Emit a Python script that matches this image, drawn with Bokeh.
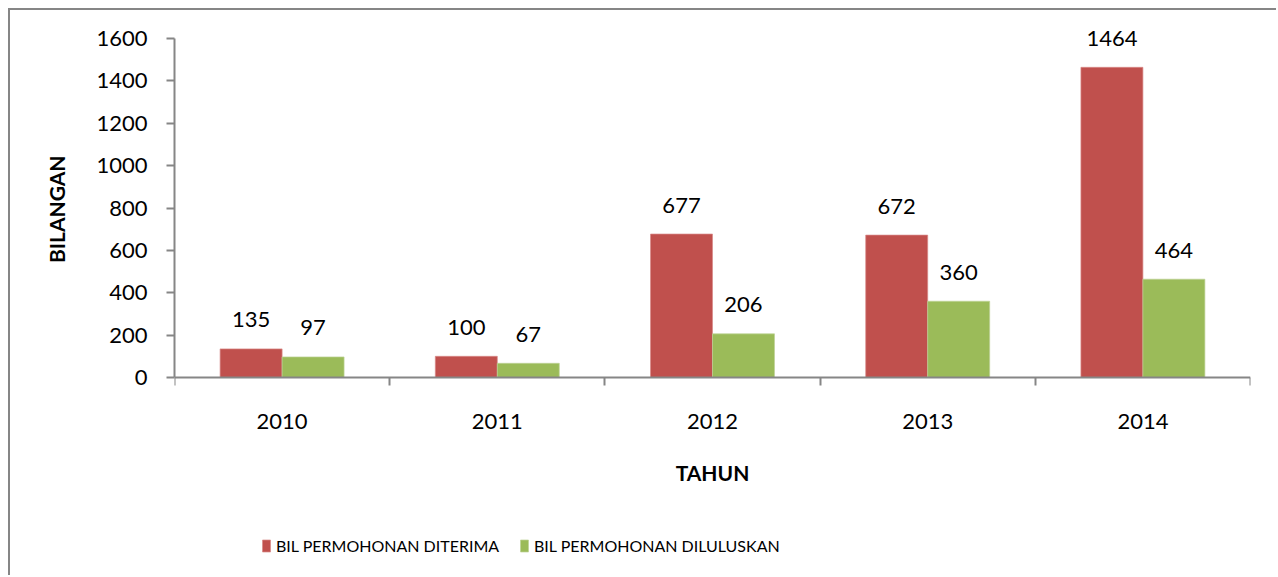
import numpy as np
from bokeh.plotting import figure
from bokeh.models import ColumnDataSource, FixedTicker, Legend, LegendItem, Range1d, Title
from bokeh.core.properties import value
from bokeh.embed import file_html
from bokeh.resources import INLINE

# ---- data ----
years = ["2010", "2011", "2012", "2013", "2014"]
diterima = [135, 100, 677, 672, 1464]
diluluskan = [97, 67, 206, 360, 464]
y_ticks = [0, 200, 400, 600, 800, 1000, 1200, 1400, 1600]
y_max = 1600

RED = "#C0504D"
GREEN = "#9BBB59"
AXIS = "#868686"
FONT = "Lato"

# layout (pixels, canvas coordinates)
W, H = 1268, 567
FL, FR, FT, FB = 164, 1240, 0, 557    # frame edges
TOP_PX, ZERO_PX = 28, 367             # canvas y of y_max and of 0
u = y_max / (ZERO_PX - TOP_PX)        # data units per pixel
ymin = -(FB - ZERO_PX) * u
ymax_range = y_max + (TOP_PX - FT) * u

n = len(years)
centers = np.arange(n) + 0.5
bw = 0.288

src = ColumnDataSource(dict(
    x_red=centers - bw / 2,
    x_green=centers + bw / 2,
    diterima=diterima,
    diluluskan=diluluskan,
    lbl_red=[str(v) for v in diterima],
    lbl_green=[str(v) for v in diluluskan],
))

p = figure(width=W, height=H,
           x_range=Range1d(0, n), y_range=Range1d(ymin, ymax_range),
           output_backend="svg", toolbar_location=None,
           min_border_left=FL, min_border_right=W - FR,
           min_border_top=FT, min_border_bottom=H - FB)
p.styles = {"margin-left": "8px", "margin-top": "8px",
            "border-left": "2px solid #868686", "border-top": "2px solid #868686"}
p.outline_line_color = None
p.xgrid.visible = False
p.ygrid.visible = False
p.background_fill_color = "white"
p.border_fill_color = "white"

r1 = p.vbar(x="x_red", top="diterima", width=bw, source=src,
            fill_color=RED, line_color="#D98A88", line_width=0.7)
r2 = p.vbar(x="x_green", top="diluluskan", width=bw, source=src,
            fill_color=GREEN, line_color="#BDD296", line_width=0.7)

for xcol, ycol, tcol in [("x_red", "diterima", "lbl_red"), ("x_green", "diluluskan", "lbl_green")]:
    p.text(x=xcol, y=ycol, text=tcol, source=src, text_align="center",
           text_baseline="alphabetic", y_offset=-29,
           text_font=value(FONT), text_font_size="22px", text_color="black")

# y axis
yax = p.yaxis[0]
yax.ticker = FixedTicker(ticks=y_ticks)
yax.bounds = (0, y_max)
yax.axis_line_color = AXIS
yax.axis_line_width = 2
yax.major_tick_line_color = AXIS
yax.major_tick_line_width = 2
yax.major_tick_out = 8
yax.major_tick_in = 0
yax.minor_tick_line_color = None
yax.major_label_standoff = 19
yax.major_label_text_font = FONT
yax.major_label_text_font_size = "22px"
yax.major_label_text_color = "black"

# y axis title (text end placed near the top of the 0..1600 span)
ytitle = Title(text="BILANGAN", align="right", offset=145,
               text_font=FONT, text_font_style="bold", text_font_size="21px",
               text_color="black", standoff=50)
p.add_layout(ytitle, "left")

# x axis, drawn at value 0
xax = p.xaxis[0]
xax.fixed_location = 0
xax.ticker = FixedTicker(ticks=list(centers), minor_ticks=list(range(n + 1)))
xax.major_label_overrides = {float(c): y for c, y in zip(centers, years)}
xax.axis_line_color = AXIS
xax.axis_line_width = 2
xax.major_tick_line_color = None
xax.major_tick_out = 0
xax.major_tick_in = 0
xax.minor_tick_line_color = AXIS
xax.minor_tick_line_width = 2
xax.minor_tick_out = 8
xax.minor_tick_in = 0
xax.major_label_standoff = 28
xax.major_label_text_font = FONT
xax.major_label_text_font_size = "22px"
xax.major_label_text_color = "black"
xax.axis_label = "TAHUN"
xax.axis_label_text_font = FONT
xax.axis_label_text_font_style = "bold"
xax.axis_label_text_font_size = "21px"
xax.axis_label_text_color = "black"
xax.axis_label_standoff = 28

def make_legend(label, rend, x, y):
    lg = Legend(items=[LegendItem(label=label, renderers=[rend])],
                location=(x, y), orientation="horizontal",
                padding=0, margin=0, border_line_color=None,
                background_fill_alpha=0, glyph_width=10, glyph_height=15,
                label_standoff=5, label_height=15,
                label_text_font=FONT, label_text_font_size="16px",
                label_text_color="black")
    p.add_layout(lg)

make_legend("BIL PERMOHONAN DITERIMA", r1, 87, 12)
make_legend("BIL PERMOHONAN DILULUSKAN", r2, 345, 12)

open("out.html", "w").write(file_html(p, INLINE))
